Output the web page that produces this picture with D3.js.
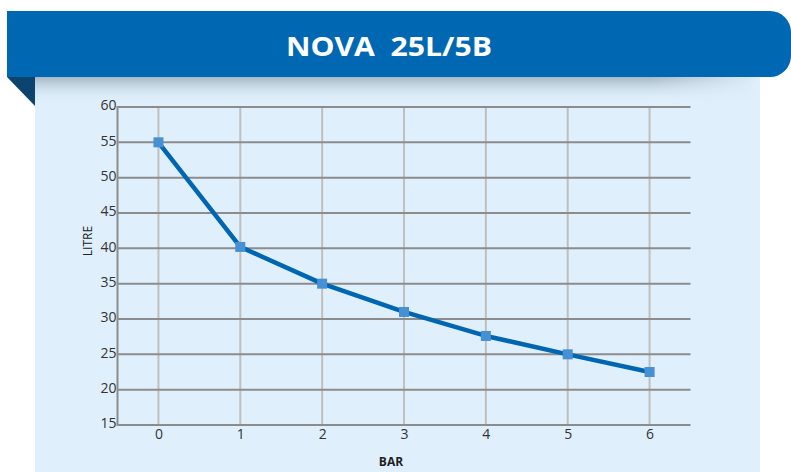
<!DOCTYPE html>
<html><head><meta charset="utf-8">
<script src="https://cdn.jsdelivr.net/npm/d3@7"></script>
<style>body{margin:0;background:#fff;}svg{display:block;}</style>
</head><body>
<svg id="chart" width="791" height="472"></svg>
<script>
const title = "NOVA  25L/5B";
const categories = ["0","1","2","3","4","5","6"];
const values = [55, 40.2, 35, 31, 27.6, 25, 22.5];
const yTicks = [15,20,25,30,35,40,45,50,55,60];
const xLabel = "BAR";
const yLabel = "LITRE";

const svg = d3.select("#chart");
const defs = svg.append("defs");
const g1 = defs.append("linearGradient").attr("id","shadow").attr("x1",0).attr("y1",0).attr("x2",0).attr("y2",1);
g1.append("stop").attr("offset","0%").attr("stop-color","#9fb0bd").attr("stop-opacity",0.9);
g1.append("stop").attr("offset","100%").attr("stop-color","#dff0fc").attr("stop-opacity",0);
const g2 = defs.append("linearGradient").attr("id","hfade").attr("x1",0).attr("y1",0).attr("x2",1).attr("y2",0);
g2.append("stop").attr("offset","0%").attr("stop-color","#fff").attr("stop-opacity",1);
g2.append("stop").attr("offset","85%").attr("stop-color","#fff").attr("stop-opacity",1);
g2.append("stop").attr("offset","100%").attr("stop-color","#fff").attr("stop-opacity",0);
const mask = defs.append("mask").attr("id","hmask");
mask.append("rect").attr("x",35).attr("y",77).attr("width",725).attr("height",26).attr("fill","url(#hfade)");

// panel
svg.append("rect").attr("x",35).attr("y",77).attr("width",725).attr("height",395).attr("fill","#dff0fc");
svg.append("rect").attr("x",35).attr("y",77).attr("width",725).attr("height",26).attr("fill","url(#shadow)").attr("mask","url(#hmask)");
// dark fold triangle
svg.append("path").attr("d","M7,77 L35,77 L35,106 Z").attr("fill","#0d446f");
// banner
const rad = 21;
svg.append("path").attr("d",`M7,11 L${791-rad},11 A${rad},${rad} 0 0 1 791,${11+rad} L791,${77-rad} A${rad},${rad} 0 0 1 ${791-rad},77 L7,77 Z`).attr("fill","#0068b3");
svg.append("text").attr("x",389).attr("y",55.5).attr("text-anchor","middle")
  .attr("font-family","'Open Sans', sans-serif").attr("font-weight","bold").attr("font-size",27.5)
  .attr("fill","#fff").attr("textLength",206).attr("lengthAdjust","spacingAndGlyphs")
  .style("white-space","pre").text(title);

const pLeft = 117.5, pRight = 690.5, pTop = 107, pBottom = 425;
const x = d3.scalePoint().domain(categories).range([pLeft, pRight]).padding(0.5);
const y = d3.scaleLinear().domain([15, 60]).range([pBottom, pTop]);

// vertical grid
svg.append("g").selectAll("line").data(categories).join("line")
  .attr("x1",d=>x(d)).attr("x2",d=>x(d)).attr("y1",pTop).attr("y2",pBottom)
  .attr("stroke","#bfbfbf").attr("stroke-width",2);
// horizontal grid
svg.append("g").selectAll("line").data(yTicks).join("line")
  .attr("x1",pLeft).attr("x2",pRight).attr("y1",d=>y(d)).attr("y2",d=>y(d))
  .attr("stroke","#8c8c8c").attr("stroke-width",2);
// y axis line
svg.append("line").attr("x1",pLeft).attr("x2",pLeft).attr("y1",pTop-1).attr("y2",pBottom+1)
  .attr("stroke","#8c8c8c").attr("stroke-width",2);

// y axis labels
const yAxis = d3.axisLeft(y).tickValues(yTicks).tickSize(0).tickPadding(1);
const ya = svg.append("g").attr("transform",`translate(${pLeft},0)`).call(yAxis);
ya.select(".domain").remove();
ya.selectAll("text").attr("font-family","'Open Sans', sans-serif").attr("font-size",14).attr("fill","#333").attr("dy","0.2em");

const xAxis = d3.axisBottom(x).tickSize(0).tickPadding(4);
const xa = svg.append("g").attr("transform",`translate(0,${pBottom})`).call(xAxis);
xa.select(".domain").remove();
xa.selectAll("text").attr("font-family","'Open Sans', sans-serif").attr("font-size",14).attr("fill","#333");

svg.append("text").attr("x",391).attr("y",466).attr("text-anchor","middle")
  .attr("font-family","'Open Sans', sans-serif").attr("font-weight","bold").attr("font-size",12).attr("fill","#222").text(xLabel);
svg.append("text").attr("transform","translate(92,241) rotate(-90)").attr("text-anchor","middle")
  .attr("font-family","'Open Sans', sans-serif").attr("font-size",12).attr("fill","#222").text(yLabel);

// line
const line = d3.line().x((d,i)=>x(categories[i])).y(d=>y(d));
svg.append("path").datum(values).attr("d",line).attr("fill","none")
  .attr("stroke","#0066b2").attr("stroke-width",4.5).attr("stroke-linejoin","round");
svg.append("g").selectAll("rect").data(values).join("rect")
  .attr("x",(d,i)=>x(categories[i])-5).attr("y",d=>y(d)-5).attr("width",10).attr("height",10)
  .attr("fill","#4690d3");
</script>
</body></html>
